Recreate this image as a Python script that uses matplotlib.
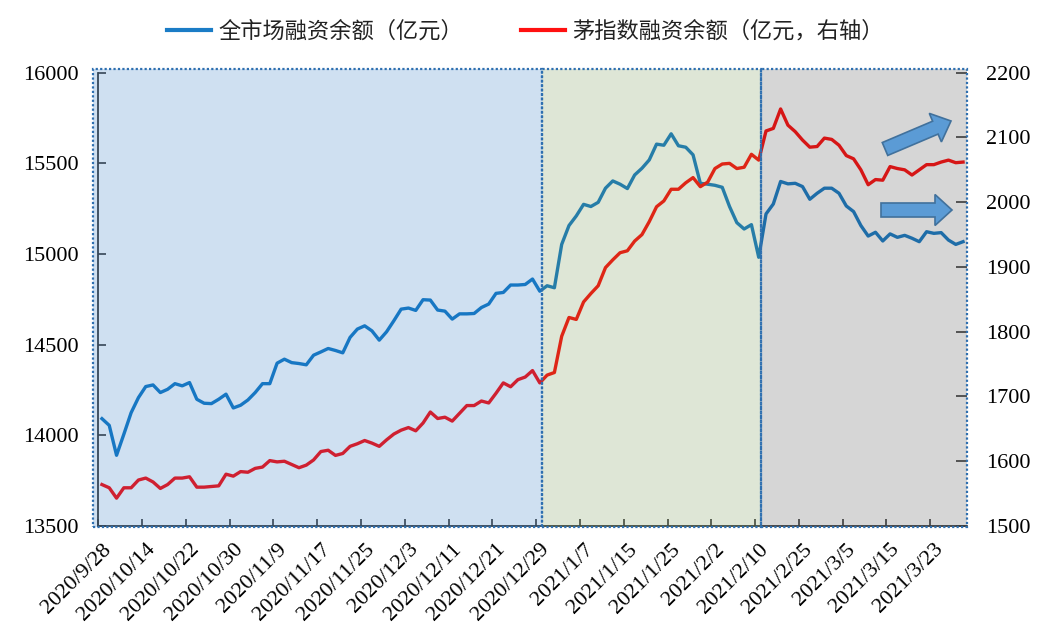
import matplotlib
matplotlib.use("Agg")
import numpy as np
import matplotlib.pyplot as plt
from matplotlib.patches import Rectangle, FancyArrow
from matplotlib.transforms import Affine2D
from matplotlib.lines import Line2D
from matplotlib.font_manager import FontProperties

# ---------------- data ----------------
def _days(prefix, days):
    return [f"{prefix}/{d}" for d in days]

dates = (_days("2020/9", [28, 29, 30])
         + _days("2020/10", [9, 12, 13, 14, 15, 16, 19, 20, 21, 22, 23, 26, 27, 28, 29, 30])
         + _days("2020/11", [2, 3, 4, 5, 6, 9, 10, 11, 12, 13, 16, 17, 18, 19, 20, 23, 24, 25, 26, 27, 30])
         + _days("2020/12", [1, 2, 3, 4, 7, 8, 9, 10, 11, 14, 15, 16, 17, 18, 21, 22, 23, 24, 25, 28, 29, 30, 31])
         + _days("2021/1", [4, 5, 6, 7, 8, 11, 12, 13, 14, 15, 18, 19, 20, 21, 22, 25, 26, 27, 28, 29])
         + _days("2021/2", [1, 2, 3, 4, 5, 8, 9, 10, 18, 19, 22, 23, 24, 25, 26])
         + _days("2021/3", [1, 2, 3, 4, 5, 8, 9, 10, 11, 12, 15, 16, 17, 18, 19, 22, 23, 24, 25, 26, 29]))

market_margin = [
    14092, 14055, 13890, 14006, 14125, 14208, 14269, 14278, 14236, 14254,
    14285, 14273, 14291, 14199, 14177, 14175, 14199, 14227, 14151, 14166,
    14195, 14236, 14285, 14285, 14398, 14420, 14401, 14396, 14389, 14442,
    14460, 14479, 14468, 14455, 14540, 14586, 14604, 14576, 14525, 14571,
    14632, 14696, 14702, 14689, 14748, 14746, 14691, 14685, 14641, 14670,
    14670, 14672, 14705, 14724, 14783, 14788, 14829, 14829, 14832, 14862,
    14795, 14825, 14814, 15053, 15157, 15210, 15274, 15262, 15285, 15363,
    15403, 15385, 15361, 15436, 15473, 15519, 15606, 15600, 15663, 15597,
    15589, 15547, 15390, 15385, 15379, 15368, 15262, 15173, 15138, 15162,
    14982, 15221, 15276, 15400, 15387, 15390, 15372, 15302, 15335, 15363,
    15363, 15335, 15265, 15234, 15157, 15099, 15120, 15072, 15111, 15092,
    15103, 15087, 15068, 15123, 15114, 15118, 15077, 15053, 15068]

mao_margin = [
    1564, 1559, 1543, 1559, 1559, 1571, 1574, 1568, 1558, 1564,
    1574, 1574, 1576, 1560, 1560, 1561, 1562, 1580, 1577, 1584,
    1583, 1589, 1591, 1601, 1599, 1600, 1595, 1590, 1594, 1602,
    1615, 1617, 1609, 1612, 1623, 1627, 1632, 1628, 1623, 1633,
    1642, 1648, 1652, 1647, 1659, 1676, 1666, 1668, 1662, 1674,
    1686, 1686, 1693, 1690, 1705, 1721, 1715, 1726, 1730, 1740,
    1721, 1733, 1737, 1793, 1822, 1819, 1846, 1859, 1871, 1899,
    1911, 1922, 1925, 1940, 1950, 1970, 1993, 2002, 2020, 2020,
    2030, 2038, 2024, 2031, 2052, 2059, 2060, 2052, 2054, 2074,
    2065, 2110, 2114, 2144, 2119, 2109, 2096, 2085, 2086, 2099,
    2097, 2088, 2072, 2067, 2050, 2027, 2035, 2034, 2055, 2052,
    2050, 2042, 2050, 2058, 2058, 2062, 2065, 2061, 2062]

series_names = ["全市场融资余额（亿元）", "茅指数融资余额（亿元，右轴）"]
left_ticks = [13500, 14000, 14500, 15000, 15500, 16000]
right_ticks = [1500, 1600, 1700, 1800, 1900, 2000, 2100, 2200]
period_bounds = [60.3, 90.3]   # category positions of the shaded-period boundaries

# ---------------- style ----------------
BLUE = "#1a7cc6"
RED = "#ff1010"
plt.rcParams["font.family"] = ["Liberation Serif"]

W, H = 1053, 639
fig = plt.figure(figsize=(W / 100, H / 100), dpi=100)
L, R, T, B = 98.3, 966.7, 72.7, 526.0
ax = fig.add_axes([L / W, 1 - B / H, (R - L) / W, (B - T) / H])
ax2 = ax.twinx()

N = len(dates)
xs = np.arange(N)
ax.plot(xs, market_margin, color=BLUE, lw=2.4, zorder=3, solid_joinstyle="round")
ax2.plot(xs, mao_margin, color=RED, lw=2.4, zorder=3, solid_joinstyle="round")

ax.set_xlim(-0.5, N - 0.5)
ax.set_ylim(13500, 16000)
ax2.set_ylim(1500, 2200)
ax.set_yticks(left_ticks)
ax2.set_yticks(right_ticks)

ax.set_xticks(xs[::6])
ax.set_xticklabels(dates[::6], rotation=45, ha="right", rotation_mode="anchor")
ax.set_xticks(np.arange(-0.5, N, 6), minor=True)
ax.tick_params(axis="x", which="major", length=0, pad=10, labelsize=16)
ax.tick_params(axis="x", which="minor", direction="in", length=5, width=1.2, color="#404040")
ax.tick_params(axis="y", direction="in", length=6, width=1.2, color="#404040", pad=14, labelsize=16)
ax2.tick_params(axis="y", direction="in", length=8, width=1.2, color="#404040", pad=14, labelsize=16)

for s in ["top", "right"]:
    ax.spines[s].set_visible(False)
for s in ["top", "right", "left", "bottom"]:
    ax2.spines[s].set_visible(False)
for s in ["left", "bottom"]:
    ax.spines[s].set_color("#404040")
    ax.spines[s].set_linewidth(1.3)

# shaded periods (translucent overlays on top of lines, as in the original)
px_per_cat = (R - L) / N
x_left = -0.5 - (L - 93.3) / px_per_cat
x_right = N - 0.5
y0, y1 = -0.002, 1 + (T - 69.3) / (B - T)
tr = ax2.get_xaxis_transform()
regions = [(x_left, period_bounds[0], (15, 100, 185)),
           (period_bounds[0], period_bounds[1], (90, 130, 50)),
           (period_bounds[1], x_right, (50, 50, 50))]
for xa, xb, c in regions:
    col = tuple(v / 255 for v in c)
    ax2.add_patch(Rectangle((xa, y0), xb - xa, y1 - y0, transform=tr, facecolor=col,
                            alpha=0.2, edgecolor="none", zorder=5, clip_on=False))
    ax2.add_patch(Rectangle((xa, y0), xb - xa, y1 - y0, transform=tr, fill=False,
                            edgecolor="#2e6fb0", lw=1.6, linestyle=(0, (1, 1)),
                            zorder=6, clip_on=False))

# arrows (pixel coordinates of the figure)
ptr = Affine2D().scale(1 / W, 1 / H) + fig.transFigure
arrows = [((885, 149), (951, 121)), ((881, 210), (952, 210))]
for (xa, ya), (xb, yb) in arrows:
    fig.add_artist(FancyArrow(xa, H - ya, xb - xa, -(yb - ya), width=14, head_width=31,
                              head_length=17, length_includes_head=True,
                              facecolor="#5b9bd5", edgecolor="#41719c", lw=1.2,
                              transform=ptr, zorder=10))

# legend
handles = [Line2D([], [], color=BLUE, lw=3), Line2D([], [], color=RED, lw=3)]
fig.legend(handles, series_names, loc="center", bbox_to_anchor=(525 / W, 1 - 31 / H),
           ncol=2, frameon=False,
           prop=FontProperties(family=["Noto Sans CJK SC"], size=16),
           labelcolor="#222222",
           handlelength=2.0, handletextpad=0.3, columnspacing=2.6)

fig.savefig("out.png", dpi=100)
